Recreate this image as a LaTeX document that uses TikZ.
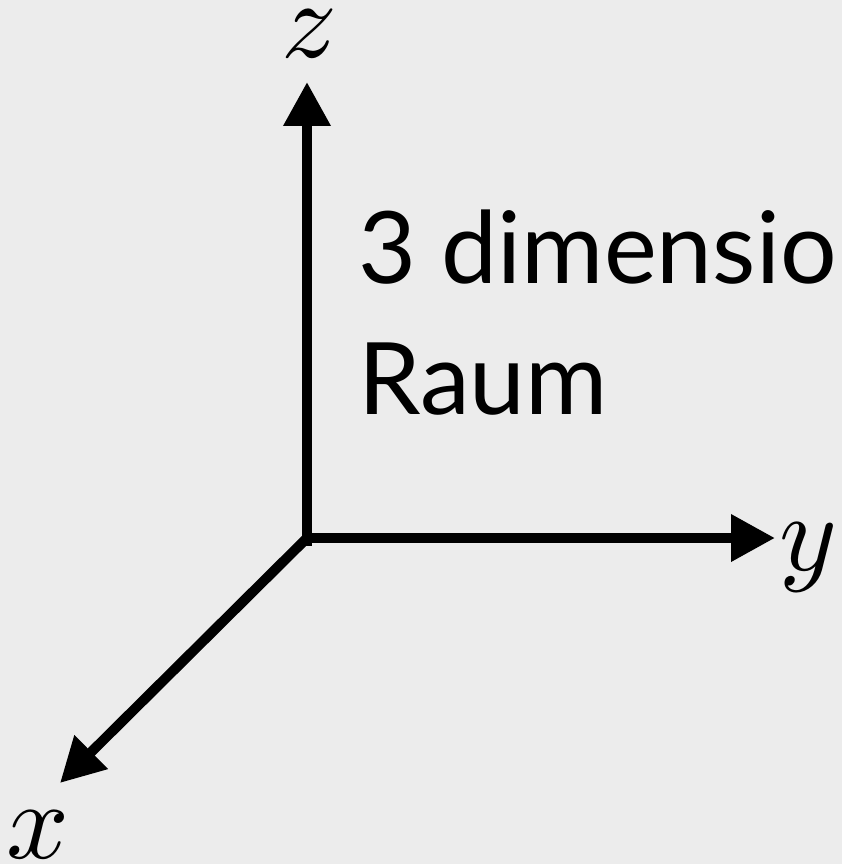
\documentclass[tikz,border=0pt]{standalone}
\usepackage{fontspec}
\setsansfont{Lato}
\usepackage{graphicx}
\usepackage{xcolor}
\usetikzlibrary{arrows.meta, positioning, calc}
\definecolor{bggray}{HTML}{ECECEC}
\newcommand{\axisletter}[1]{\scalebox{11}{$#1$}}

\begin{document}
\begin{tikzpicture}[x=1pt, y=-1pt]
    % Styles
    \tikzstyle{axis} = [draw, line width=10pt, black, -{Triangle[length=44pt, width=45pt]}]
    \tikzstyle{axislabel} = [inner sep=0pt, anchor=base]
    \tikzstyle{caption} = [inner sep=0pt, anchor=base west, font=\sffamily\fontsize{100}{100}\selectfont]

    % Background
    \fill[bggray] (0,0) rectangle (842,864);
    \useasboundingbox (0,0) rectangle (842,864);

    % Axes
    \coordinate (o) at (307,538);
    \coordinate (ztip) at (307,82);
    \coordinate (ytip) at (775,538);
    \coordinate (xtip) at (60,783);
    \draw[axis] ($(o)+(0,8)$) -- (ztip);
    \draw[axis] ($(o)+(-5,0)$) -- (ytip);
    \draw[axis] (o) -- (xtip);

    % Labels
    \node [axislabel] (zlab) at (309,58) {\axisletter{z}};
    \node [axislabel] (ylab) at (808,570) {\axisletter{y}};
    \node [axislabel] (xlab) at (38,858) {\axisletter{x}};

    % Text
    \node [caption] (dim) at (358,283) {3 dimensio};
    \node [caption] (raum) at (358,414) {Raum};
\end{tikzpicture}
\end{document}
